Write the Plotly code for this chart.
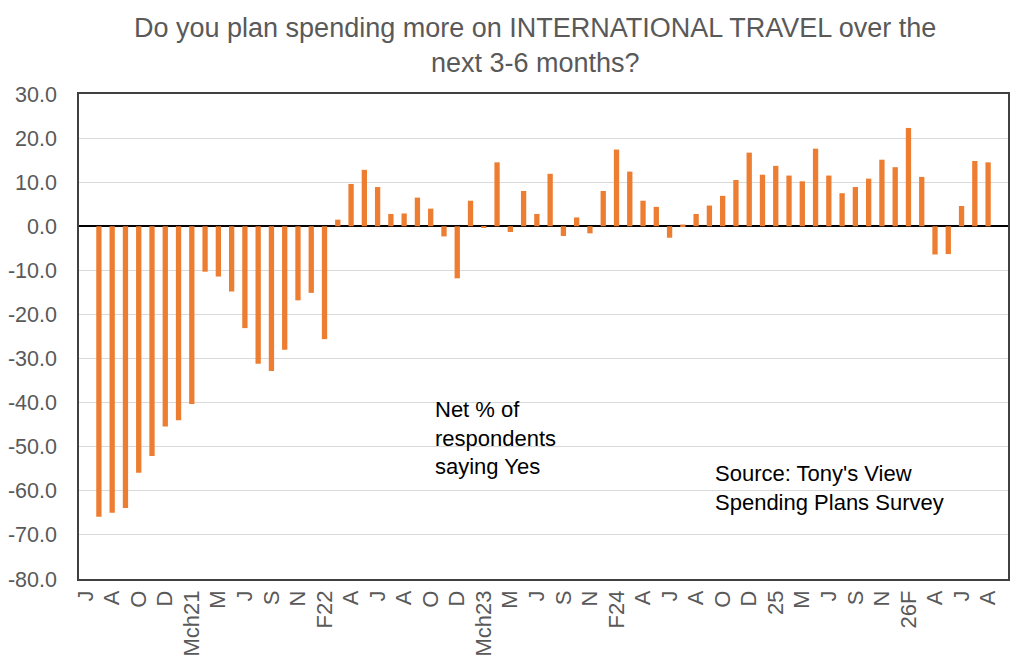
import plotly.graph_objects as go

# net % saying yes, one bar per survey (first slot on the axis is empty)
net_yes = [-65.9, -65.0, -63.9, -55.9, -52.1, -45.4, -44.0, -40.3,
           -10.3, -11.4, -14.8, -23.1, -31.2, -32.8, -28.0, -16.8,
           -15.1, -25.6, 1.5, 9.6, 12.8, 8.9, 2.8, 2.9,
           6.5, 4.0, -2.3, -11.8, 5.8, -0.3, 14.5, -1.3,
           8.0, 2.8, 11.9, -2.2, 2.0, -1.6, 8.0, 17.4,
           12.4, 5.8, 4.4, -2.6, 0.4, 2.8, 4.7, 6.9,
           10.5, 16.7, 11.7, 13.7, 11.5, 10.2, 17.6, 11.5,
           7.5, 8.9, 10.8, 15.1, 13.4, 22.3, 11.2, -6.4,
           -6.3, 4.6, 14.8, 14.5]

# one label on every second slot
tick_labels = ["J", "A", "O", "D", "Mch21", "M", "J", "S", "N", "F22",
               "A", "J", "A", "O", "D", "Mch23", "M", "J", "S", "N",
               "F24", "A", "J", "A", "O", "D", "25", "M", "J", "S",
               "N", "26F", "A", "J", "A"]

y_ticks = [30, 20, 10, 0, -10, -20, -30, -40, -50, -60, -70, -80]

slots = list(range(1, len(net_yes) + 1))
tick_pos = list(range(0, 2 * len(tick_labels), 2))
y_text = ["%.1f" % v for v in y_ticks]   # plain hyphen like Excel

FONT = "Liberation Sans, Arial, sans-serif"
GREY = "#595959"

fig = go.Figure(go.Bar(x=slots, y=net_yes, marker_color="#ED7D31",
                       marker_line_width=0))

# page body adds 8px, so the figure is 8px smaller than the window
fig.update_layout(
    width=1016, height=661,
    margin=dict(l=71, r=16, t=86, b=90, autoexpand=False),
    paper_bgcolor="white", plot_bgcolor="white",
    bargap=0.6, showlegend=False,
    font=dict(family=FONT, color=GREY),
)

fig.update_xaxes(range=[-0.5, 69.5], tickmode="array", tickvals=tick_pos,
                 ticktext=tick_labels, tickangle=-90, ticks="",
                 ticklabelstandoff=1, automargin=False,
                 tickfont=dict(size=22, color=GREY), showgrid=False,
                 showline=True, linecolor="#404040", linewidth=1.5, mirror=True)

fig.update_yaxes(range=[-80, 30], tickmode="array", tickvals=y_ticks,
                 ticktext=y_text, ticklabelstandoff=16, automargin=False,
                 tickfont=dict(size=21.5, color=GREY), showgrid=True,
                 gridcolor="#D9D9D9", gridwidth=1, zeroline=True,
                 zerolinecolor="black", zerolinewidth=1.5,
                 showline=True, linecolor="#404040", linewidth=1.5, mirror=True,
                 ticks="")

fig.add_annotation(text="Do you plan spending more on INTERNATIONAL TRAVEL over the<br>next 3-6 months?",
                   xref="paper", yref="paper", x=0.491, y=1.171,
                   xanchor="center", yanchor="top", align="center", showarrow=False,
                   font=dict(size=27, color=GREY, family=FONT))
fig.add_annotation(text="Net % of<br>respondents<br>saying Yes", xref="paper", yref="paper",
                   x=0.381, y=0.379, xanchor="left", yanchor="top", align="left",
                   showarrow=False, font=dict(size=22, color="black", family=FONT))
fig.add_annotation(text="Source: Tony's View<br>Spending Plans Survey", xref="paper", yref="paper",
                   x=0.682, y=0.248, xanchor="left", yanchor="top", align="left",
                   showarrow=False, font=dict(size=22, color="black", family=FONT))

fig.write_html("out.html")
